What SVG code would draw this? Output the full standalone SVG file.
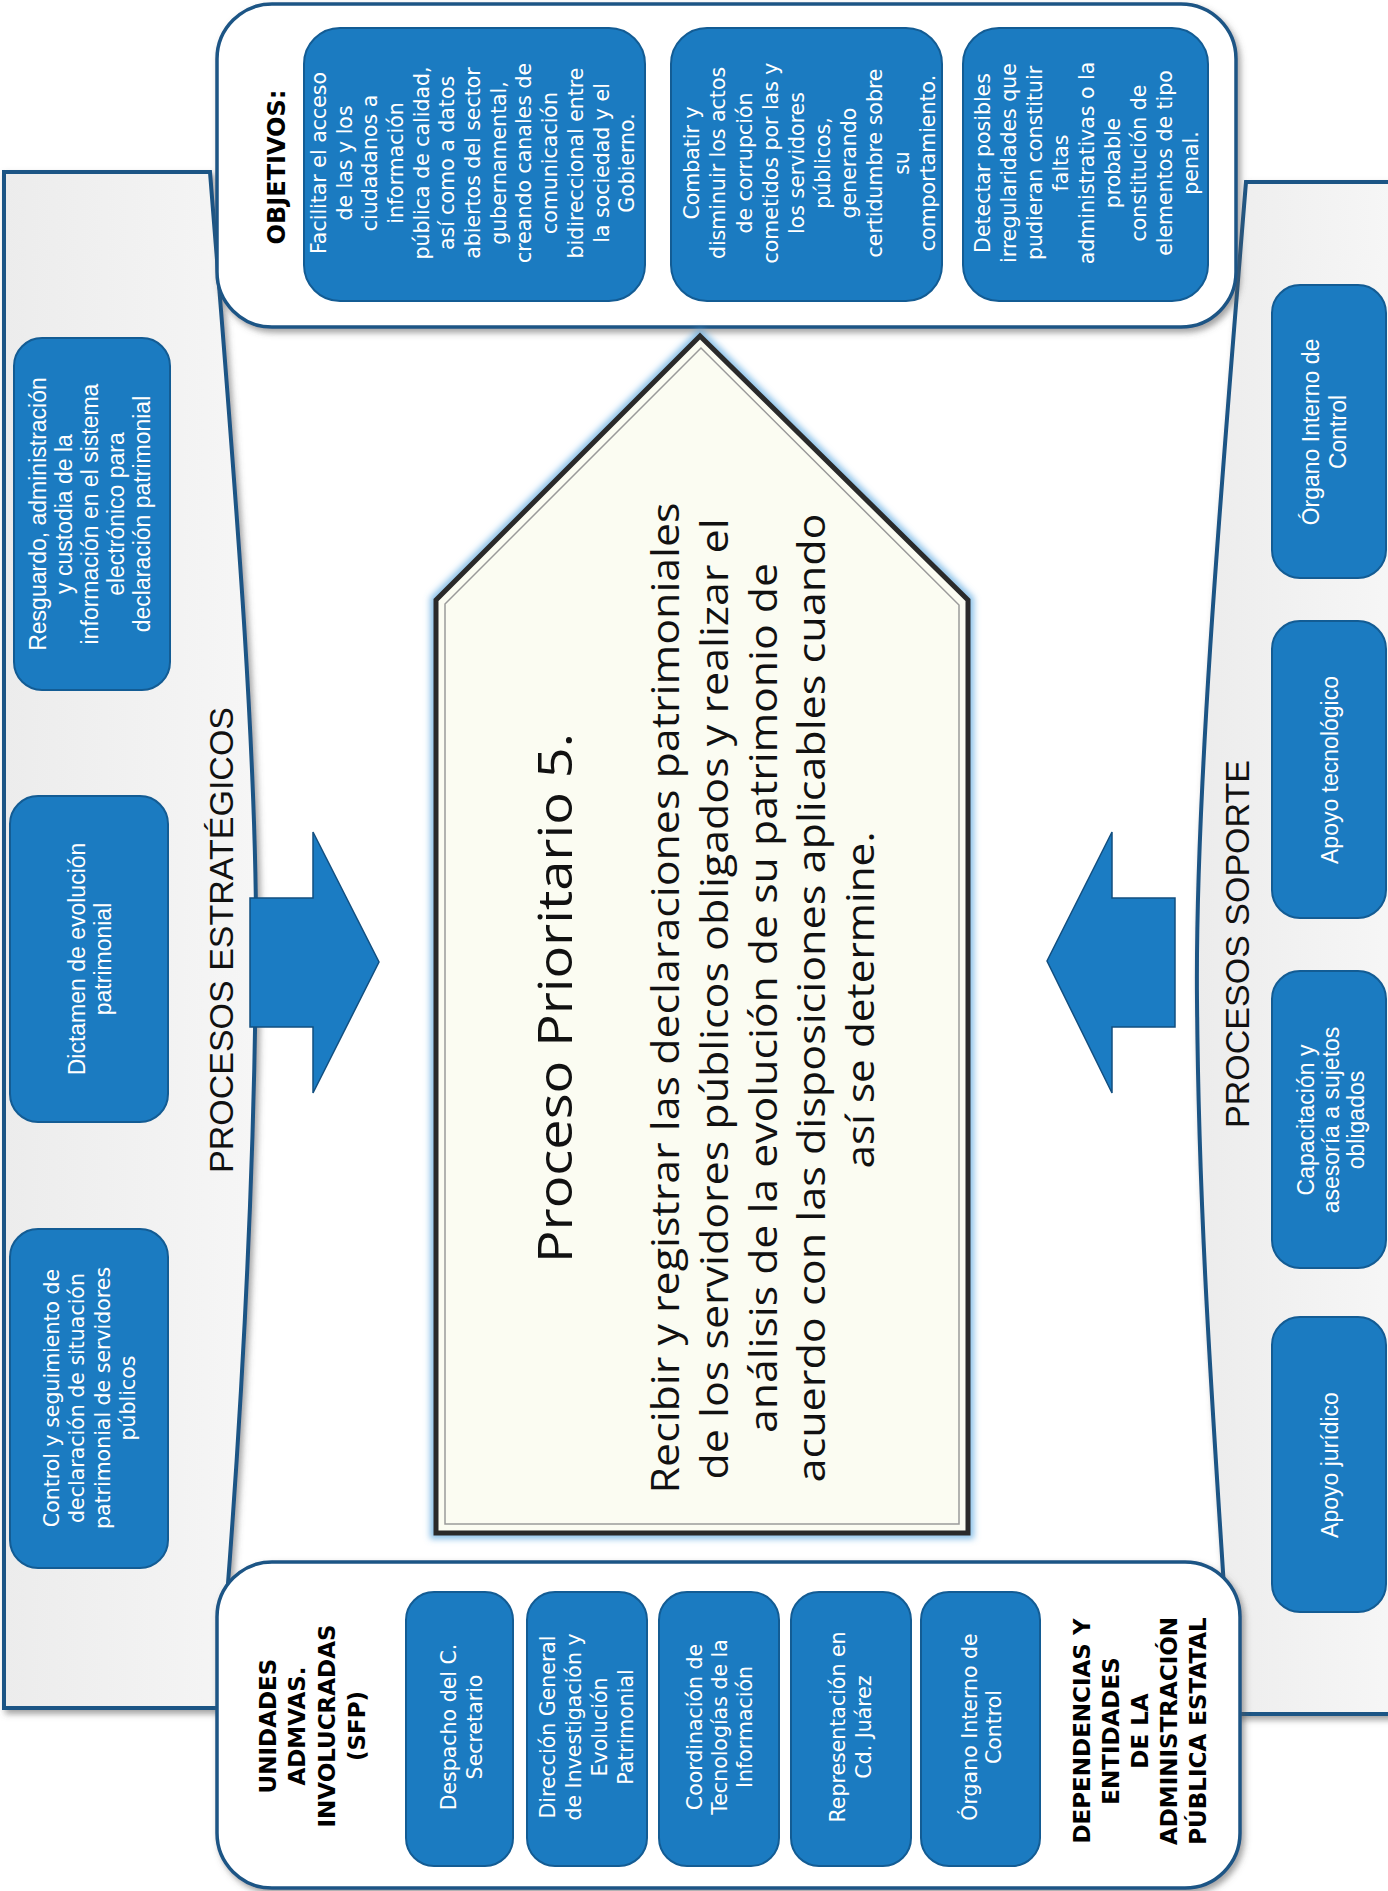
<svg xmlns="http://www.w3.org/2000/svg" width="1388" height="1891" viewBox="0 0 1388 1891">
<defs>
<filter id="sh" x="-10%" y="-10%" width="120%" height="120%">
<feDropShadow dx="3" dy="4" stdDeviation="3" flood-color="#555" flood-opacity="0.55"/>
</filter>
<filter id="glow" x="-10%" y="-10%" width="120%" height="120%">
<feGaussianBlur stdDeviation="3"/>
</filter>
<linearGradient id="gray" x1="0" y1="0" x2="1" y2="0">
<stop offset="0" stop-color="#ececec"/>
<stop offset="1" stop-color="#f6f6f6"/>
</linearGradient>
<style>
.side{fill:url(#gray);stroke:#1c5485;stroke-width:4;filter:url(#sh)}
.panel{fill:#fff;stroke:#1c5485;stroke-width:3.5;filter:url(#sh)}
.box{fill:#1b7bc1;stroke:#135c94;stroke-width:2}
.tm{font-family:"DejaVu Sans","Noto Sans",sans-serif;font-size:20.5px;fill:#fff;text-anchor:middle;dominant-baseline:central}
.tc{font-family:"Liberation Sans",Arial,sans-serif;font-size:23px;fill:#fff;text-anchor:middle;dominant-baseline:central}
.th{font-family:"DejaVu Sans","Noto Sans",sans-serif;font-weight:bold;font-size:23px;fill:#000;text-anchor:middle;dominant-baseline:central}
.tp{font-family:"Liberation Sans",Arial,sans-serif;font-size:34px;fill:#111;text-anchor:middle;dominant-baseline:central}
.tt{font-family:"Open Sans","Noto Sans",sans-serif;fill:#111;text-anchor:middle;dominant-baseline:central}
.arrow{fill:#1b7cc3;stroke:#124f80;stroke-width:1.5}
</style>
</defs>
<rect width="1388" height="1891" fill="#ffffff"/>

<g id="panel-estrategicos">
<path class="side" d="M4,172 L210,172 C232,450 258,750 256,960 C254,1200 240,1450 218,1708 L4,1708 Z"/>
<text class="tp" transform="translate(221,940) rotate(-90)">PROCESOS ESTRATÉGICOS</text>
</g>
<g id="est-resguardo">
<rect class="box" x="14" y="338" width="156" height="352" rx="28"/>
<text class="tc" transform="translate(90,514) rotate(-90)"><tspan x="0" y="-52">Resguardo, administración</tspan><tspan x="0" dy="26">y custodia de la</tspan><tspan x="0" dy="26">información en el sistema</tspan><tspan x="0" dy="26">electrónico para</tspan><tspan x="0" dy="26">declaración patrimonial</tspan></text>
</g>
<g id="est-dictamen">
<rect class="box" x="10" y="796" width="158" height="326" rx="28"/>
<text class="tc" transform="translate(90,959) rotate(-90)"><tspan x="0" y="-13">Dictamen de evolución</tspan><tspan x="0" dy="26">patrimonial</tspan></text>
</g>
<g id="est-control">
<rect class="box" x="10" y="1229" width="158" height="339" rx="28"/>
<text class="tm" transform="translate(90,1398) rotate(-90)"><tspan x="0" y="-38.25">Control y seguimiento de</tspan><tspan x="0" dy="25.5">declaración de situación</tspan><tspan x="0" dy="25.5">patrimonial de servidores</tspan><tspan x="0" dy="25.5">públicos</tspan></text>
</g>

<g id="panel-soporte">
<path class="side" d="M1246,182 L1392,182 L1392,1714 L1232,1714 C1216,1450 1199,1250 1197,1000 C1195,800 1220,500 1246,182 Z"/>
<text class="tp" transform="translate(1237,944) rotate(-90)">PROCESOS SOPORTE</text>
</g>
<g id="sop-organo">
<rect class="box" x="1272" y="285" width="114" height="293" rx="28"/>
<text class="tc" transform="translate(1324,432) rotate(-90)"><tspan x="0" y="-13">Órgano Interno de</tspan><tspan x="0" dy="27">Control</tspan></text>
</g>
<g id="sop-tecnologico">
<rect class="box" x="1272" y="621" width="114" height="297" rx="28"/>
<text class="tc" transform="translate(1330,770) rotate(-90)">Apoyo tecnológico</text>
</g>
<g id="sop-capacitacion">
<rect class="box" x="1272" y="971" width="114" height="297" rx="28"/>
<text class="tc" transform="translate(1331,1120) rotate(-90)"><tspan x="0" y="-25">Capacitación y</tspan><tspan x="0" dy="25">asesoría a sujetos</tspan><tspan x="0" dy="25">obligados</tspan></text>
</g>
<g id="sop-juridico">
<rect class="box" x="1272" y="1317" width="114" height="295" rx="28"/>
<text class="tc" transform="translate(1330,1465) rotate(-90)">Apoyo jurídico</text>
</g>

<g id="panel-objetivos">
<rect class="panel" x="217" y="4" width="1019" height="323" rx="55"/>
<text class="th" style="font-size:24px" transform="translate(277,167) rotate(-90)">OBJETIVOS:</text>
</g>
<g id="obj-1">
<rect class="box" x="304" y="28" width="341" height="273" rx="36"/>
<text class="tm" transform="translate(473,163) rotate(-90)"><tspan x="0" y="-154.2">Facilitar el acceso</tspan><tspan x="0" dy="25.7">de las y los</tspan><tspan x="0" dy="25.7">ciudadanos a</tspan><tspan x="0" dy="25.7">información</tspan><tspan x="0" dy="25.7">pública de calidad,</tspan><tspan x="0" dy="25.7">así como a datos</tspan><tspan x="0" dy="25.7">abiertos del sector</tspan><tspan x="0" dy="25.7">gubernamental,</tspan><tspan x="0" dy="25.7">creando canales de</tspan><tspan x="0" dy="25.7">comunicación</tspan><tspan x="0" dy="25.7">bidireccional entre</tspan><tspan x="0" dy="25.7">la sociedad y el</tspan><tspan x="0" dy="25.7">Gobierno.</tspan></text>
</g>
<g id="obj-2">
<rect class="box" x="671" y="28" width="271" height="273" rx="36"/>
<text class="tm" transform="translate(810,163) rotate(-90)"><tspan x="0" y="-117.9">Combatir y</tspan><tspan x="0" dy="26.2">disminuir los actos</tspan><tspan x="0" dy="26.2">de corrupción</tspan><tspan x="0" dy="26.2">cometidos por las y</tspan><tspan x="0" dy="26.2">los servidores</tspan><tspan x="0" dy="26.2">públicos,</tspan><tspan x="0" dy="26.2">generando</tspan><tspan x="0" dy="26.2">certidumbre sobre</tspan><tspan x="0" dy="26.2">su</tspan><tspan x="0" dy="26.2">comportamiento.</tspan></text>
</g>
<g id="obj-3">
<rect class="box" x="963" y="28" width="245" height="273" rx="36"/>
<text class="tm" transform="translate(1087,163) rotate(-90)"><tspan x="0" y="-103.6">Detectar posibles</tspan><tspan x="0" dy="25.9">irregularidades que</tspan><tspan x="0" dy="25.9">pudieran constituir</tspan><tspan x="0" dy="25.9">faltas</tspan><tspan x="0" dy="25.9">administrativas o la</tspan><tspan x="0" dy="25.9">probable</tspan><tspan x="0" dy="25.9">constitución de</tspan><tspan x="0" dy="25.9">elementos de tipo</tspan><tspan x="0" dy="25.9">penal.</tspan></text>
</g>

<g id="panel-unidades">
<rect class="panel" x="217" y="1562" width="1023" height="326" rx="55"/>
<text class="th" transform="translate(312,1726) rotate(-90)"><tspan x="0" y="-44.5">UNIDADES</tspan><tspan x="0" dy="29.7">ADMVAS.</tspan><tspan x="0" dy="29.7">INVOLUCRADAS</tspan><tspan x="0" dy="29.7">(SFP)</tspan></text>
<text class="th" transform="translate(1140,1731) rotate(-90)"><tspan x="0" y="-58">DEPENDENCIAS Y</tspan><tspan x="0" dy="29">ENTIDADES</tspan><tspan x="0" dy="29">DE LA</tspan><tspan x="0" dy="29">ADMINISTRACIÓN</tspan><tspan x="0" dy="29">PÚBLICA ESTATAL</tspan></text>
</g>
<g id="uni-despacho">
<rect class="box" x="406" y="1592" width="107" height="274" rx="28"/>
<text class="tm" transform="translate(462,1727) rotate(-90)"><tspan x="0" y="-13">Despacho del C.</tspan><tspan x="0" dy="26">Secretario</tspan></text>
</g>
<g id="uni-direccion">
<rect class="box" x="527" y="1592" width="120" height="274" rx="28"/>
<text class="tm" transform="translate(587,1727) rotate(-90)"><tspan x="0" y="-39">Dirección General</tspan><tspan x="0" dy="26">de Investigación y</tspan><tspan x="0" dy="26">Evolución</tspan><tspan x="0" dy="26">Patrimonial</tspan></text>
</g>
<g id="uni-coordinacion">
<rect class="box" x="659" y="1592" width="120" height="274" rx="28"/>
<text class="tm" transform="translate(720,1727) rotate(-90)"><tspan x="0" y="-25">Coordinación de</tspan><tspan x="0" dy="25">Tecnologías de la</tspan><tspan x="0" dy="25">Información</tspan></text>
</g>
<g id="uni-representacion">
<rect class="box" x="791" y="1592" width="120" height="274" rx="28"/>
<text class="tm" transform="translate(851,1727) rotate(-90)"><tspan x="0" y="-13">Representación en</tspan><tspan x="0" dy="26">Cd. Juárez</tspan></text>
</g>
<g id="uni-organo">
<rect class="box" x="921" y="1592" width="119" height="274" rx="28"/>
<text class="tm" transform="translate(982,1727) rotate(-90)"><tspan x="0" y="-12">Órgano Interno de</tspan><tspan x="0" dy="24">Control</tspan></text>
</g>

<g id="proceso-prioritario">
<polygon points="436,600 700,336 968,600 968,1533 436,1533" fill="none" stroke="#5aa7e0" stroke-width="12" stroke-opacity="0.7" filter="url(#glow)"/>
<polygon points="436,600 700,336 968,600 968,1533 436,1533" fill="#fbfcf2" stroke="#2a2a2a" stroke-width="5"/>
<polygon points="445,604 701,348 959,605 959,1524 445,1524" fill="none" stroke="#9a9a9a" stroke-width="1.5"/>
<text class="tt" style="font-size:48px" textLength="530" lengthAdjust="spacingAndGlyphs" transform="translate(553,998) rotate(-90)">Proceso Prioritario 5.</text>
<text class="tt" style="font-size:38px" textLength="991" lengthAdjust="spacingAndGlyphs" transform="translate(664,998) rotate(-90)">Recibir y registrar las declaraciones patrimoniales</text>
<text class="tt" style="font-size:38px" textLength="961" lengthAdjust="spacingAndGlyphs" transform="translate(713,999) rotate(-90)">de los servidores públicos obligados y realizar el</text>
<text class="tt" style="font-size:38px" textLength="870" lengthAdjust="spacingAndGlyphs" transform="translate(762,998) rotate(-90)">análisis de la evolución de su patrimonio de</text>
<text class="tt" style="font-size:38px" textLength="969" lengthAdjust="spacingAndGlyphs" transform="translate(810,998) rotate(-90)">acuerdo con las disposiciones aplicables cuando</text>
<text class="tt" style="font-size:38px" textLength="337" lengthAdjust="spacingAndGlyphs" transform="translate(859,1000) rotate(-90)">así se determine.</text>
</g>

<g id="connectors">
<polygon class="arrow" points="250,898 313,898 313,832 379,962 313,1093 313,1027 250,1027"/>
<polygon class="arrow" points="1175,898 1112,898 1112,832 1047,961 1112,1093 1112,1027 1175,1027"/>
</g>
</svg>
